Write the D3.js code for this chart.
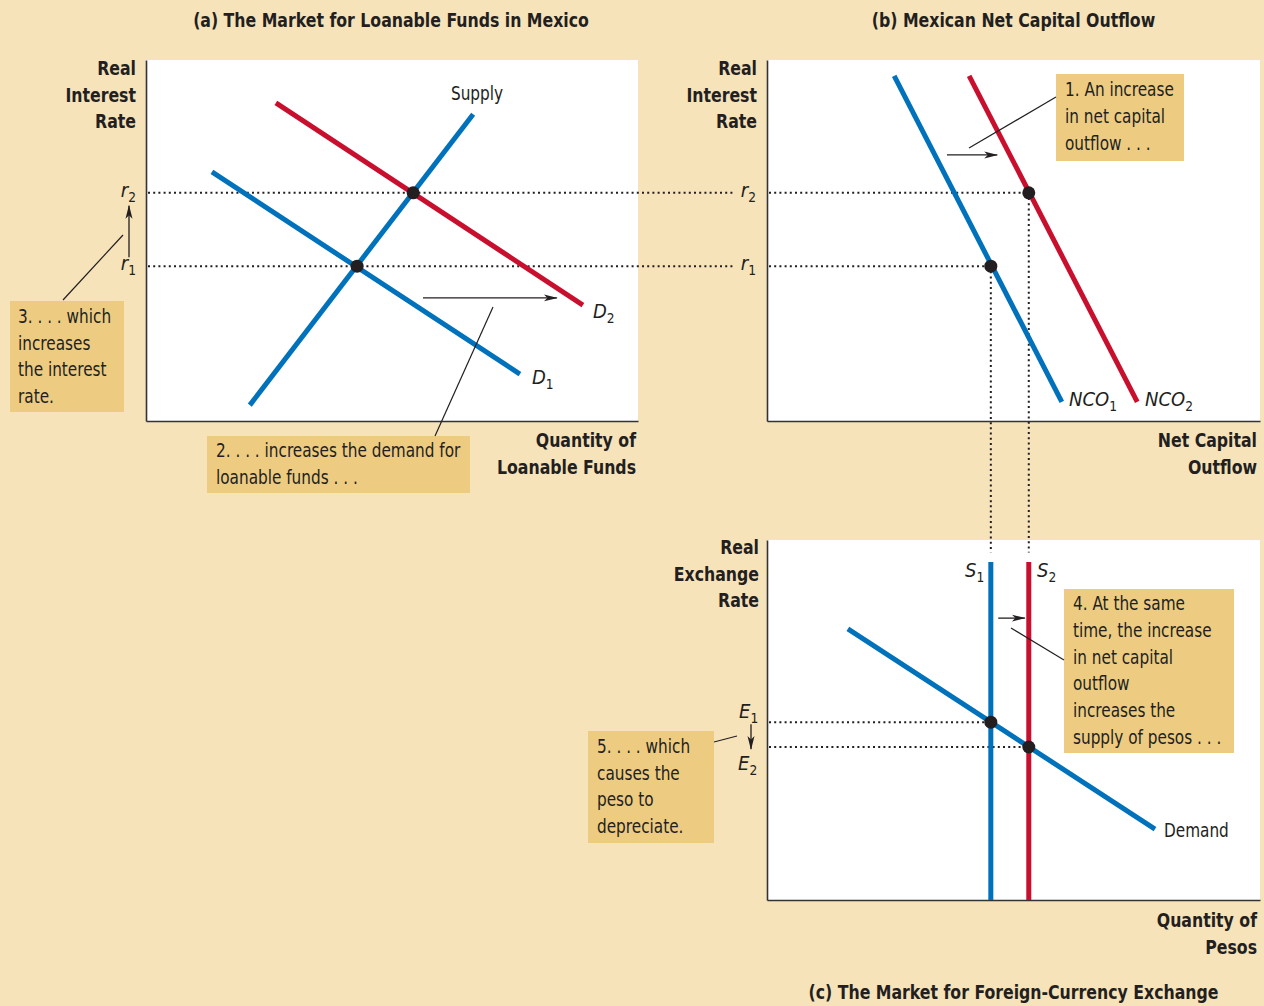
<!DOCTYPE html>
<html><head><meta charset="utf-8">
<script src="https://cdn.jsdelivr.net/npm/d3@7"></script>
<style>body{margin:0;background:#F7E3BA;} svg{display:block}</style>
</head><body>
<script>
// ---------------- DATA (values in 0–100 chart units) ----------------
const panelTitles = ["(a) The Market for Loanable Funds in Mexico", "(b) Mexican Net Capital Outflow", "(c) The Market for Foreign-Currency Exchange"];
// (a) loanable funds
const supplyLF  = [[21.1, 4.4], [66.5, 85.0]];
const demandLF1 = [[13.4, 69.0], [76.0, 13.0]];
const demandLF2 = [[26.4, 88.1], [88.8, 32.1]];
const rateLevels = [42.9, 63.2];           // r1, r2
const rateTickLabels = [["r", "1"], ["r", "2"]];
const eqLF = [[42.9, 42.9], [54.3, 63.2]];
const shiftLF = [[56.3, 34.1], [83.5, 34.1]];
// (b) net capital outflow
const nco1 = [[25.8, 95.6], [59.8, 5.3]];
const nco2 = [[41.0, 95.6], [75.1, 5.3]];
const eqNCO = [[45.4, 42.9], [53.1, 63.2]];
const shiftNCO = [[36.5, 73.7], [46.7, 73.7]];
// (c) foreign-currency exchange
const supplyFX = [45.4, 53.1];             // S1, S2 quantities (vertical supply)
const supplyFXTop = 93.9;
const demandFX = [[16.4, 75.3], [78.7, 19.7]];
const exchLevels = [49.4, 42.5];           // E1, E2
const exchTickLabels = [["E", "1"], ["E", "2"]];
const eqFX = [[45.4, 49.4], [53.1, 42.5]];
const shiftFX = [[46.9, 78.3], [52.3, 78.3]];
// axis titles and notes
const yTitlesA = ["Real", "Interest", "Rate"];
const xTitlesA = ["Quantity of", "Loanable Funds"];
const yTitlesB = ["Real", "Interest", "Rate"];
const xTitlesB = ["Net Capital", "Outflow"];
const yTitlesC = ["Real", "Exchange", "Rate"];
const xTitlesC = ["Quantity of", "Pesos"];
const note1 = ["1. An increase", "in net capital", "outflow . . ."];
const note2 = ["2. . . . increases the demand for", "loanable funds . . ."];
const note3 = ["3. . . . which", "increases", "the interest", "rate."];
const note4 = ["4. At the same", "time, the increase", "in net capital", "outflow", "increases the", "supply of pesos . . ."];
const note5 = ["5. . . . which", "causes the", "peso to", "depreciate."];

// ---------------- STYLE ----------------
const BLUE = "#0071BB", RED = "#C8102E", INK = "#231F20", BOX = "#EDCC82", BG = "#F7E3BA";
const FONT = "'DejaVu Sans Condensed','Open Sans',sans-serif";

const svg = d3.select("body").append("svg").attr("width", 1264).attr("height", 1006)
  .style("background", BG).attr("font-family", FONT);

const defs = svg.append("defs");
defs.append("marker").attr("id", "ah").attr("markerUnits", "userSpaceOnUse")
  .attr("markerWidth", 14).attr("markerHeight", 8).attr("refX", 13).attr("refY", 4)
  .attr("orient", "auto")
  .append("path").attr("d", "M0,0.5 L14,4 L0,7.5 L3.5,4 Z").attr("fill", INK);

// panel geometry
const P = {
  a: {x0: 146, x1: 638, y0: 60, y1: 421},
  b: {x0: 767, x1: 1260, y0: 60, y1: 421},
  c: {x0: 767, x1: 1260, y0: 540, y1: 900}
};
const sc = {};
for (const k in P) {
  sc[k] = {
    x: d3.scaleLinear().domain([0, 100]).range([P[k].x0, P[k].x1]),
    y: d3.scaleLinear().domain([0, 100]).range([P[k].y1, P[k].y0])
  };
}

// white plot areas + axes
for (const k in P) {
  const p = P[k];
  svg.append("rect").attr("x", p.x0).attr("y", p.y0).attr("width", p.x1 - p.x0).attr("height", p.y1 - p.y0).attr("fill", "#fff");
}
for (const k in P) {
  const p = P[k];
  svg.append("g").attr("transform", `translate(${p.x0},0)`)
    .call(d3.axisLeft(sc[k].y).tickValues([]).tickSizeOuter(0))
    .select(".domain").attr("stroke", "#333").attr("stroke-width", 1.6);
  svg.append("g").attr("transform", `translate(0,${p.y1})`)
    .call(d3.axisBottom(sc[k].x).tickValues([]).tickSizeOuter(0))
    .select(".domain").attr("stroke", "#333").attr("stroke-width", 1.6);
}

const dotted = (x1, y1, x2, y2) => svg.append("line").attr("x1", x1).attr("y1", y1).attr("x2", x2).attr("y2", y2)
  .attr("stroke", INK).attr("stroke-width", 2).attr("stroke-dasharray", "2,3.2");

// dotted guides: r levels across (a) and (b)
rateLevels.forEach((r, i) => {
  const yy = sc.a.y(r);
  dotted(P.a.x0 + 2, yy, P.b.x0 - 34, yy);
  dotted(P.b.x0 + 2, sc.b.y(r), sc.b.x(eqNCO[i][0]), sc.b.y(r));
});
// vertical dotted from (b) to (c)
eqNCO.forEach(d => {
  dotted(sc.b.x(d[0]), sc.b.y(d[1]), sc.b.x(d[0]), sc.c.y(96.5));
});
// exchange levels in (c)
exchLevels.forEach((e, i) => {
  dotted(P.c.x0 + 2, sc.c.y(e), sc.c.x(eqFX[i][0]), sc.c.y(e));
});

// curves
const curve = (k, data, color) => svg.append("path").datum(data)
  .attr("d", d3.line().x(d => sc[k].x(d[0])).y(d => sc[k].y(d[1])))
  .attr("stroke", color).attr("stroke-width", 5).attr("fill", "none");
curve("a", demandLF1, BLUE);
curve("a", demandLF2, RED);
curve("a", supplyLF, BLUE);
curve("b", nco1, BLUE);
curve("b", nco2, RED);
supplyFX.forEach((q, i) => curve("c", [[q, 0], [q, supplyFXTop]], i === 0 ? BLUE : RED));
curve("c", demandFX, BLUE);

// equilibrium dots
const dots = (k, data) => svg.selectAll(null).data(data).enter().append("circle")
  .attr("cx", d => sc[k].x(d[0])).attr("cy", d => sc[k].y(d[1])).attr("r", 6.5).attr("fill", INK);
dots("a", eqLF); dots("b", eqNCO); dots("c", eqFX);

// shift arrows
const arrow = (k, data) => svg.append("line")
  .attr("x1", sc[k].x(data[0][0])).attr("y1", sc[k].y(data[0][1]))
  .attr("x2", sc[k].x(data[1][0])).attr("y2", sc[k].y(data[1][1]))
  .attr("stroke", INK).attr("stroke-width", 1.3).attr("marker-end", "url(#ah)");
arrow("a", shiftLF); arrow("b", shiftNCO); arrow("c", shiftFX);

// text helpers
function label(x, y, base, sub, anchor, italic = true, size = 20) {
  const t = svg.append("text").attr("x", x).attr("y", y).attr("text-anchor", anchor || "start")
    .attr("font-size", size).attr("fill", INK);
  t.append("tspan").text(base).attr("font-style", italic ? "italic" : "normal");
  if (sub) t.append("tspan").text(sub).attr("font-size", size * 0.68).attr("dy", 5);
  return t;
}
// lines of text, condensed horizontally with a scale transform (narrow-face look)
function lines(arr, x, y, lh, anchor, bold, size, f) {
  const k = f || (bold ? 0.875 : 0.85);
  arr.forEach((s, i) => {
    svg.append("g").attr("transform", `translate(${x},${y + i * lh}) scale(${k},1)`)
      .append("text").attr("text-anchor", anchor).attr("font-size", size)
      .attr("font-weight", bold ? "bold" : "normal").attr("fill", INK)
      .attr("x", 0).attr("y", 0).text(s);
  });
}

// titles
lines([panelTitles[0]], (P.a.x0 + P.a.x1) / 2 - 1, 27, 0, "middle", true, 20);
lines([panelTitles[1]], (P.b.x0 + P.b.x1) / 2, 27, 0, "middle", true, 20);
lines([panelTitles[2]], (P.c.x0 + P.c.x1) / 2, 999, 0, "middle", true, 20);

// axis titles
lines(yTitlesA, P.a.x0 - 10, 75, 26.5, "end", true, 20);
lines(xTitlesA, P.a.x1 - 2, 447, 27, "end", true, 20);
lines(yTitlesB, P.b.x0 - 10, 75, 26.5, "end", true, 20);
lines(xTitlesB, P.b.x1 - 3, 447, 27, "end", true, 20);
lines(yTitlesC, P.c.x0 - 8, 554, 26.7, "end", true, 20);
lines(xTitlesC, P.c.x1 - 3, 927, 27, "end", true, 20);

// r tick labels
rateLevels.forEach((r, i) => {
  label(P.a.x0 - 10, sc.a.y(r) + 4, rateTickLabels[i][0], rateTickLabels[i][1], "end");
  label(P.b.x0 - 11, sc.b.y(r) + 4, rateTickLabels[i][0], rateTickLabels[i][1], "end");
});
// r1 -> r2 arrow (a)
svg.append("line").attr("x1", P.a.x0 - 17).attr("y1", sc.a.y(rateLevels[0]) - 9)
  .attr("x2", P.a.x0 - 17).attr("y2", sc.a.y(rateLevels[1]) + 13)
  .attr("stroke", INK).attr("stroke-width", 1.3).attr("marker-end", "url(#ah)");
// E tick labels
label(P.c.x0 - 28, sc.c.y(exchLevels[0]) - 4, exchTickLabels[0][0], exchTickLabels[0][1], "start");
label(P.c.x0 - 29, sc.c.y(exchLevels[1]) + 23, exchTickLabels[1][0], exchTickLabels[1][1], "start");
svg.append("line").attr("x1", P.c.x0 - 16).attr("y1", sc.c.y(exchLevels[0]) + 2)
  .attr("x2", P.c.x0 - 16).attr("y2", sc.c.y(exchLevels[1]) + 2)
  .attr("stroke", INK).attr("stroke-width", 1.3).attr("marker-end", "url(#ah)");

// curve labels
lines(["Supply"], 477, 100, 0, "middle", false, 20);
label(593, 318, "D", "2", "start");
label(532, 384, "D", "1", "start");
label(1069, 406, "NCO", "1", "start");
label(1145, 406, "NCO", "2", "start");
label(965, 577, "S", "1", "start");
label(1037, 577, "S", "2", "start");
lines(["Demand"], 1164, 837, 0, "start", false, 20);

// annotation boxes
function note(arr, bx, by, bw, bh, tx, ty, lh) {
  svg.append("rect").attr("x", bx).attr("y", by).attr("width", bw).attr("height", bh).attr("fill", BOX);
  lines(arr, tx, ty, lh, "start", false, 20);
}
const leader = (x1, y1, x2, y2) => svg.append("line").attr("x1", x1).attr("y1", y1).attr("x2", x2).attr("y2", y2)
  .attr("stroke", INK).attr("stroke-width", 1.2);

note(note1, 1056, 74, 128, 87, 1065, 96, 27);
leader(969, 148, 1056, 97);
note(note2, 207, 436, 263, 57, 216, 457, 27);
leader(493, 307, 435, 436);
note(note3, 10, 301, 114, 111, 18, 323, 26.5);
leader(63, 300, 123, 235);
note(note4, 1064, 589, 170, 164, 1073, 610, 26.8);
leader(1011, 628, 1064, 660);
note(note5, 588, 731, 126, 112, 597, 753, 26.7);
leader(714, 742, 737, 736);
</script>
</body></html>
